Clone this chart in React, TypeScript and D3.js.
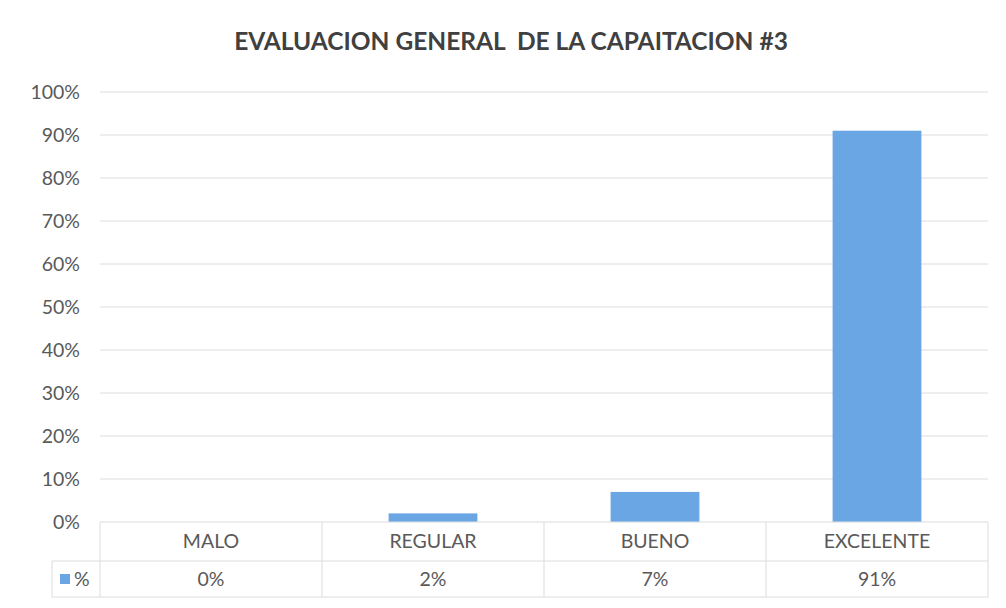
import { useEffect, useRef } from 'react';
import * as d3 from 'd3';

const categories = ['MALO', 'REGULAR', 'BUENO', 'EXCELENTE'];
const values = [0, 2, 7, 91];
const valueLabels = ['0%', '2%', '7%', '91%'];
const yTicks = [0, 10, 20, 30, 40, 50, 60, 70, 80, 90, 100];
const seriesName = '%';
const title = 'EVALUACION GENERAL  DE LA CAPAITACION #3';

const W = 1006;
const H = 608;
const margin = { top: 92, right: 18, bottom: 86, left: 100 };
const legendLeft = 52;
const rowH = [39, 36];
const barColor = '#6aa6e4';
const gridColor = '#dcdcdc';
const textColor = '#595959';
const font = 'Lato, "Open Sans", sans-serif';

export default function App() {
  const svgRef = useRef<SVGSVGElement>(null);

  useEffect(() => {
    if (!svgRef.current) return;
    const svg = d3.select(svgRef.current);
    svg.selectAll('*').remove();

    const innerW = W - margin.left - margin.right;
    const innerH = H - margin.top - margin.bottom;

    const x = d3.scaleBand().domain(categories).range([0, innerW]).paddingInner(0).paddingOuter(0);
    const y = d3.scaleLinear().domain([0, 100]).range([innerH, 0]);

    svg.append('rect').attr('width', W).attr('height', H).attr('fill', '#ffffff');

    svg.append('text')
      .attr('x', 511)
      .attr('y', 50)
      .attr('text-anchor', 'middle')
      .attr('font-family', font)
      .attr('font-weight', 'bold')
      .attr('font-size', 24.5)
      .attr('fill', '#404040')
      .style('white-space', 'pre')
      .text(title);

    const g = svg.append('g').attr('transform', `translate(${margin.left},${margin.top})`);

    // grid lines
    g.append('g')
      .selectAll('line')
      .data(yTicks.filter(t => t > 0))
      .enter().append('line')
      .attr('x1', 0)
      .attr('x2', innerW)
      .attr('y1', d => y(d))
      .attr('y2', d => y(d))
      .attr('stroke', gridColor)
      .attr('stroke-width', 1);

    // y axis labels
    g.append('g')
      .selectAll('text')
      .data(yTicks)
      .enter().append('text')
      .attr('x', -20)
      .attr('y', d => y(d))
      .attr('dy', '0.35em')
      .attr('text-anchor', 'end')
      .attr('font-family', font)
      .attr('font-size', 19.5)
      .attr('fill', textColor)
      .text(d => `${d}%`);

    // bars
    const barW = x.bandwidth() * 0.4;
    g.append('g')
      .selectAll('rect')
      .data(values)
      .enter().append('rect')
      .attr('x', (d, i) => (x(categories[i]) || 0) + (x.bandwidth() - barW) / 2)
      .attr('y', d => y(d))
      .attr('width', barW)
      .attr('height', d => innerH - y(d))
      .attr('fill', barColor);

    // data table
    const t = g.append('g').attr('transform', `translate(0,${innerH})`);
    const r1 = rowH[0];
    const r2 = rowH[0] + rowH[1];
    const lineAttrs = (sel: any) => sel.attr('stroke', gridColor).attr('stroke-width', 1);

    t.append('line').attr('x1', 0).attr('x2', innerW).attr('y1', 0).attr('y2', 0).call(lineAttrs);
    t.append('line').attr('x1', legendLeft - margin.left).attr('x2', innerW).attr('y1', r1).attr('y2', r1).call(lineAttrs);
    t.append('line').attr('x1', legendLeft - margin.left).attr('x2', innerW).attr('y1', r2).attr('y2', r2).call(lineAttrs);
    t.append('line').attr('x1', legendLeft - margin.left).attr('x2', legendLeft - margin.left).attr('y1', r1).attr('y2', r2).call(lineAttrs);

    t.selectAll('.vline')
      .data([...categories.map(c => x(c) || 0), innerW])
      .enter().append('line')
      .attr('class', 'vline')
      .attr('x1', d => d)
      .attr('x2', d => d)
      .attr('y1', 0)
      .attr('y2', r2)
      .call(lineAttrs);

    t.selectAll('.cat')
      .data(categories)
      .enter().append('text')
      .attr('class', 'cat')
      .attr('x', d => (x(d) || 0) + x.bandwidth() / 2)
      .attr('y', r1 / 2)
      .attr('dy', '0.35em')
      .attr('text-anchor', 'middle')
      .attr('font-family', font)
      .attr('font-size', 19.5)
      .attr('fill', textColor)
      .text(d => d);

    t.selectAll('.val')
      .data(valueLabels)
      .enter().append('text')
      .attr('class', 'val')
      .attr('x', (d, i) => (x(categories[i]) || 0) + x.bandwidth() / 2)
      .attr('y', r1 + rowH[1] / 2)
      .attr('dy', '0.35em')
      .attr('text-anchor', 'middle')
      .attr('font-family', font)
      .attr('font-size', 19.5)
      .attr('fill', textColor)
      .text(d => d);

    // legend key
    t.append('rect')
      .attr('x', legendLeft - margin.left + 8)
      .attr('y', r1 + rowH[1] / 2 - 5)
      .attr('width', 10)
      .attr('height', 10)
      .attr('fill', barColor);
    t.append('text')
      .attr('x', legendLeft - margin.left + 22)
      .attr('y', r1 + rowH[1] / 2)
      .attr('dy', '0.35em')
      .attr('font-family', font)
      .attr('font-size', 19.5)
      .attr('fill', textColor)
      .text(seriesName);
  }, []);

  return (
    <div style={{ position: 'absolute', left: 0, top: 0 }}>
      <svg ref={svgRef} width={W} height={H} style={{ display: 'block' }} />
    </div>
  );
}
